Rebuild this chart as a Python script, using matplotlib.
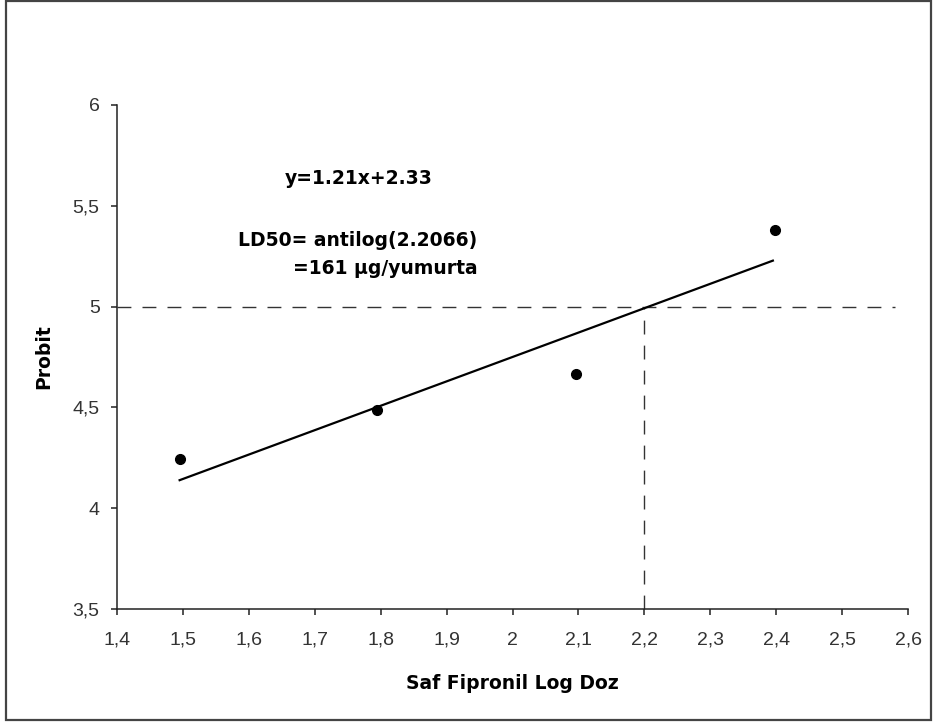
import matplotlib
matplotlib.use("Agg")
import matplotlib.pyplot as plt
from matplotlib.patches import Rectangle

plt.rcParams['font.family'] = ['Liberation Sans', 'DejaVu Sans']

# Data
log_dose = [1.496, 1.794, 2.096, 2.398]
probit = [4.244, 4.487, 4.666, 5.38]
trend_x = [1.495, 2.395]
trend_y = [4.139, 5.228]
ld50_x = 2.2
ld50_y = 5.0
x_ticks = [1.4, 1.5, 1.6, 1.7, 1.8, 1.9, 2.0, 2.1, 2.2, 2.3, 2.4, 2.5, 2.6]
x_ticklabels = ["1,4", "1,5", "1,6", "1,7", "1,8", "1,9", "2", "2,1", "2,2", "2,3", "2,4", "2,5", "2,6"]
y_ticks = [3.5, 4.0, 4.5, 5.0, 5.5, 6.0]
y_ticklabels = ["3,5", "4", "4,5", "5", "5,5", "6"]

W, H = 934, 724
fig = plt.figure(figsize=(W / 100, H / 100), dpi=100)
fig.patch.set_facecolor('white')

# outer border
fig.add_artist(Rectangle((5.5 / W, (H - 719.5) / H), (931 - 5.5) / W, (719.5 - 0.5) / H,
                         transform=fig.transFigure, fill=False, edgecolor='#444444', lw=1.6))

ax = fig.add_axes([117 / W, (H - 609) / H, (908 - 117) / W, (609 - 105) / H])
ax.set_xlim(1.4, 2.6)
ax.set_ylim(3.5, 6.0)
for s in ['top', 'right']:
    ax.spines[s].set_visible(False)
for s in ['left', 'bottom']:
    ax.spines[s].set_linewidth(1.1)
    ax.spines[s].set_color('#222222')

ax.set_xticks(x_ticks)
ax.set_xticklabels(x_ticklabels)
ax.set_yticks(y_ticks)
ax.set_yticklabels(y_ticklabels)
ax.tick_params(axis='both', direction='out', length=4.5, width=1.1, colors='#222222',
               labelsize=14, labelcolor='#333333')
ax.tick_params(axis='x', pad=12)
ax.tick_params(axis='y', pad=8)

# dashed reference lines
ax.plot([1.4, 2.58], [ld50_y, ld50_y], color='#333333', lw=1.0, dashes=(10, 8), clip_on=False)
ax.plot([ld50_x, ld50_x], [3.5, ld50_y], color='#333333', lw=1.0, dashes=(10, 8), clip_on=False)

# trend line
ax.plot(trend_x, trend_y, color='black', lw=1.6)
# points
ax.plot(log_dose, probit, 'o', color='black', markersize=7, clip_on=False)

bold_font = dict(family=['DejaVu Sans'], fontweight='bold', fontsize=13.5)
ax.set_xlabel("Saf Fipronil Log Doz", labelpad=18, **bold_font)
ax.set_ylabel("Probit", labelpad=14, **bold_font)

# annotations (pixel positions converted to figure coords)
fig.text(285 / W, 1 - 178 / H, "y=1.21x+2.33", va='center', ha='left', **bold_font)
fig.text(238 / W, 1 - 240 / H, "LD50= antilog(2.2066)", va='center', ha='left', **bold_font)
fig.text(293 / W, 1 - 268 / H, "=161 µg/yumurta", va='center', ha='left', **bold_font)

fig.savefig("out.png", dpi=100, facecolor='white')
